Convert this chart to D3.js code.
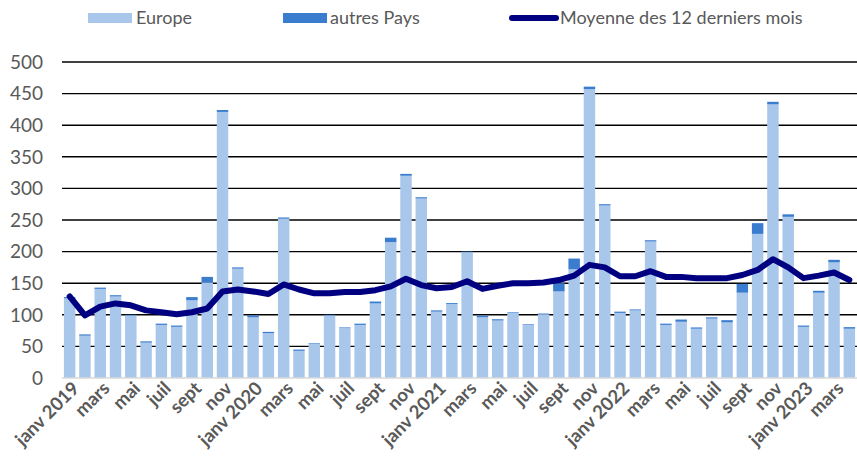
<!DOCTYPE html>
<html>
<head>
<meta charset="utf-8">
<script src="https://cdn.jsdelivr.net/npm/d3@7"></script>
<style>
  body { margin: 0; background: #fff; }
  svg { display: block; font-family: Lato, "Open Sans", sans-serif; }
</style>
</head>
<body>
<svg id="chart"></svg>
<script>
// months janv 2019 -> avr 2023
const monthNames = ['janv', 'févr', 'mars', 'avr', 'mai', 'juin', 'juil', 'août', 'sept', 'oct', 'nov', 'déc'];
const months = d3.range(52).map(i => {
    const y = 2019 + Math.floor(i / 12), m = i % 12;
    return m === 0 ? `janv ${y}` : `${monthNames[m]} ${y}`;
});

const europe = [
    126, 67, 141, 129, 99, 56, 84, 81, 123, 151, 421, 173,
    96, 71, 252, 43, 54, 99, 79, 84, 118, 215, 320, 284,
    105, 117, 199, 96, 91, 103, 84, 101, 137, 172, 457, 273,
    103, 107, 216, 84, 89, 78, 94, 88, 135, 228, 433, 255,
    81, 135, 183, 78
];
const autres = [
    2, 2, 2, 2, 1, 2, 2, 2, 5, 9, 3, 2,
    3, 2, 2, 2, 1, 1, 1, 2, 3, 7, 3, 2,
    2, 1.5, 1, 2.5, 2, 1, 1, 1, 13, 17, 4, 2,
    2, 1.5, 2, 2, 3.5, 2, 2, 3.5, 14, 17, 4, 4,
    2, 3, 4, 2.5
];
const moyenne = [
    129, 99, 113, 118, 115, 107, 104, 101, 104, 110, 137, 140,
    137, 133, 148, 140, 134, 134, 136, 136, 139, 145, 157, 147,
    142, 144, 153, 141, 146, 150, 150, 151, 155, 162, 179, 175,
    161, 161, 169, 160, 160, 158, 158, 158, 163, 171, 188, 175,
    158, 162, 167, 155
];
const yTicks = [0, 50, 100, 150, 200, 250, 300, 350, 400, 450, 500];

const W = 857, H = 457;
const margin = { left: 62, right: 0, top: 62, bottom: 79 };

const svg = d3.select('#chart').attr('width', W).attr('height', H);

const x = d3.scaleBand()
    .domain(months)
    .range([margin.left, W - margin.right])
    .paddingInner(0.25)
    .paddingOuter(0.125);
const y = d3.scaleLinear().domain([0, 500]).range([H - margin.bottom, margin.top]);

// grid
svg.append('g')
    .selectAll('line')
    .data(yTicks.filter(d => d > 0))
    .enter()
    .append('line')
    .attr('x1', margin.left).attr('x2', W)
    .attr('y1', d => y(d)).attr('y2', d => y(d))
    .attr('stroke', '#000')
    .attr('stroke-width', 1.4);

// y labels
svg.append('g')
    .selectAll('text')
    .data(yTicks)
    .enter()
    .append('text')
    .attr('x', 43)
    .attr('y', d => y(d))
    .attr('dy', '0.36em')
    .attr('text-anchor', 'end')
    .attr('fill', '#595959')
    .attr('font-size', 19)
    .text(d => d);

// stacked bars
const stack = months.map((m, i) => ({ m, e: europe[i], a: autres[i] }));
const bars = svg.append('g');
bars.selectAll('.eu')
    .data(stack)
    .enter()
    .append('rect')
    .attr('x', d => x(d.m))
    .attr('width', x.bandwidth())
    .attr('y', d => y(d.e))
    .attr('height', d => y(0) - y(d.e))
    .attr('fill', '#a9c7eb');
bars.selectAll('.ap')
    .data(stack)
    .enter()
    .append('rect')
    .attr('x', d => x(d.m))
    .attr('width', x.bandwidth())
    .attr('y', d => y(d.e + d.a))
    .attr('height', d => y(d.e) - y(d.e + d.a))
    .attr('fill', '#3a7dcf');

// axis line
svg.append('line')
    .attr('x1', margin.left).attr('x2', W)
    .attr('y1', y(0)).attr('y2', y(0))
    .attr('stroke', '#d9d9d9')
    .attr('stroke-width', 1.5);

// moving average
const line = d3.line()
    .x((d, i) => x(months[i]) + x.bandwidth() / 2)
    .y(d => y(d));
svg.append('path')
    .datum(moyenne)
    .attr('d', line)
    .attr('fill', 'none')
    .attr('stroke', '#000080')
    .attr('stroke-width', 6)
    .attr('stroke-linejoin', 'round')
    .attr('stroke-linecap', 'round');

// x labels (every second month)
svg.append('g')
    .selectAll('text')
    .data(months.filter((m, i) => i % 2 === 0))
    .enter()
    .append('text')
    .attr('transform', d => `translate(${x(d) + x.bandwidth() / 2 + 6},${y(0) + 7}) rotate(-45)`)
    .attr('text-anchor', 'end')
    .attr('dy', '0.35em')
    .attr('fill', '#595959')
    .attr('font-size', 18.5)
    .attr('font-weight', 'bold')
    .text(d => d.startsWith('janv') ? d : d.split(' ')[0]);

// legend
const legend = svg.append('g').attr('font-size', 18).attr('fill', '#595959');
legend.append('rect').attr('x', 88).attr('y', 13).attr('width', 44).attr('height', 10).attr('fill', '#a9c7eb');
legend.append('text').attr('x', 136).attr('y', 18).attr('dy', '0.36em').text('Europe');
legend.append('rect').attr('x', 283).attr('y', 13).attr('width', 44).attr('height', 10).attr('fill', '#3a7dcf');
legend.append('text').attr('x', 330).attr('y', 18).attr('dy', '0.36em').text('autres Pays');
legend.append('line').attr('x1', 512).attr('x2', 556).attr('y1', 18).attr('y2', 18)
    .attr('stroke', '#000080').attr('stroke-width', 6).attr('stroke-linecap', 'round');
legend.append('text').attr('x', 560).attr('y', 18).attr('dy', '0.36em').text('Moyenne des 12 derniers mois');
</script>
</body>
</html>
